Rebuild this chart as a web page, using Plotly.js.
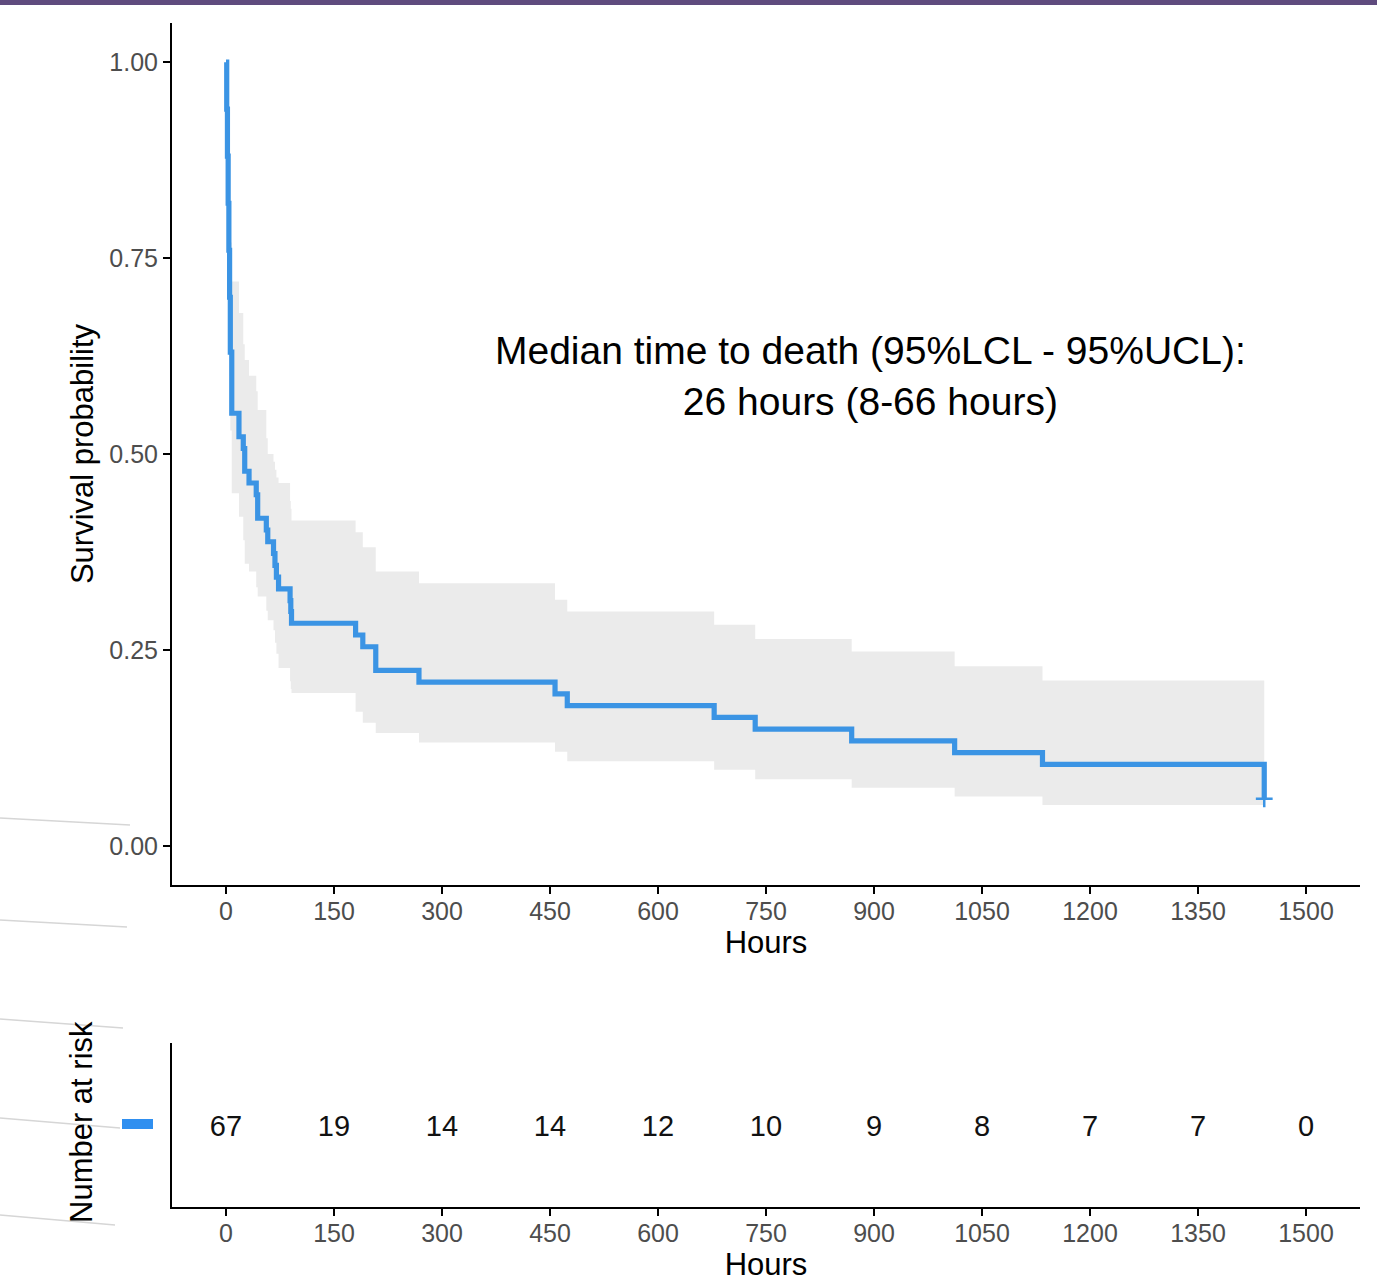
<!DOCTYPE html>
<html>
<head>
<meta charset="utf-8">
<script src="https://cdn.plot.ly/plotly-3.0.1.min.js"></script>
<style>html,body{margin:0;padding:0;background:#fff;}#chart{width:1377px;height:1284px;}</style>
</head>
<body>
<div id="chart"></div>
<script>
// Kaplan-Meier estimate (hours)
const timeHours = [0, 1, 2, 3, 4, 5, 6, 8, 18, 24, 26, 32, 42, 44, 56, 58, 66, 68, 70, 73, 89, 90, 91, 180, 190, 208, 268, 457, 474, 678, 735, 869, 1012, 1134, 1442];
const survival  = [1.000, 0.940, 0.880, 0.820, 0.760, 0.700, 0.630, 0.552, 0.522, 0.507, 0.478, 0.463, 0.448, 0.418, 0.403, 0.388, 0.373, 0.358, 0.343, 0.328, 0.313, 0.299, 0.284, 0.269, 0.254, 0.224, 0.209, 0.194, 0.179, 0.164, 0.149, 0.134, 0.119, 0.104, 0.060];
// 95% confidence band (step), ends at the last time
const bandTime  = [0, 1, 2, 3, 4, 5, 6, 8, 18, 24, 26, 32, 42, 44, 56, 58, 66, 68, 70, 73, 89, 90, 91, 180, 190, 208, 268, 457, 474, 678, 735, 869, 1012, 1134, 1442];
const upperCI   = [1.000, 0.990, 0.960, 0.910, 0.860, 0.820, 0.770, 0.720, 0.680, 0.640, 0.620, 0.600, 0.580, 0.556, 0.520, 0.500, 0.490, 0.480, 0.470, 0.463, 0.440, 0.430, 0.415, 0.400, 0.381, 0.350, 0.335, 0.314, 0.299, 0.282, 0.264, 0.248, 0.229, 0.211, 0.211];
const lowerCI   = [1.000, 0.880, 0.800, 0.730, 0.670, 0.600, 0.530, 0.450, 0.420, 0.390, 0.360, 0.350, 0.330, 0.318, 0.300, 0.288, 0.275, 0.259, 0.245, 0.227, 0.210, 0.200, 0.195, 0.171, 0.157, 0.144, 0.132, 0.120, 0.108, 0.097, 0.085, 0.074, 0.063, 0.052, 0.052];
// censoring mark
const censorTime = [1442];
const censorSurv = [0.060];
// risk table
const riskTimes  = [0, 150, 300, 450, 600, 750, 900, 1050, 1200, 1350, 1500];
const riskCounts = [67, 19, 14, 14, 12, 10, 9, 8, 7, 7, 0];
const riskRow    = [0.5, 0.5, 0.5, 0.5, 0.5, 0.5, 0.5, 0.5, 0.5, 0.5, 0.5];
// axis ticks
const xTicks = [0, 150, 300, 450, 600, 750, 900, 1050, 1200, 1350, 1500];
const yTicks = [0, 0.25, 0.5, 0.75, 1.0];
const yTickText = ['0.00', '0.25', '0.50', '0.75', '1.00'];

const W = 1377, H = 1284;
const px = x => x / W, py = y => 1 - y / H;
const BLUE = '#3b94e4';
const FONT = 'Liberation Sans, Arial, Helvetica, sans-serif';

const traces = [
  {x: bandTime, y: lowerCI, type: 'scatter', mode: 'lines', line: {shape: 'hv', width: 0, color: 'rgba(0,0,0,0)'}, hoverinfo: 'skip', showlegend: false, xaxis: 'x', yaxis: 'y'},
  {x: bandTime, y: upperCI, type: 'scatter', mode: 'lines', line: {shape: 'hv', width: 0, color: 'rgba(0,0,0,0)'}, fill: 'tonexty', fillcolor: '#ebebeb', hoverinfo: 'skip', showlegend: false, xaxis: 'x', yaxis: 'y'},
  {x: timeHours, y: survival, type: 'scatter', mode: 'lines', line: {shape: 'hv', width: 5.2, color: BLUE}, showlegend: false, xaxis: 'x', yaxis: 'y'},
  {x: censorTime, y: censorSurv, type: 'scatter', mode: 'markers', marker: {symbol: 'cross-thin', size: 12, line: {width: 2.5, color: BLUE}, color: BLUE}, showlegend: false, xaxis: 'x', yaxis: 'y'},
  {x: riskTimes, y: riskRow, text: riskCounts.map(String), type: 'scatter', mode: 'text', textposition: 'middle center', textfont: {size: 29, color: '#111', family: FONT}, showlegend: false, xaxis: 'x2', yaxis: 'y2', hoverinfo: 'skip'}
];

const xCommon = {
  domain: [px(172), px(1360)], range: [-75, 1575], tickvals: xTicks, ticktext: xTicks.map(String),
  ticks: 'outside', ticklen: 7, tickwidth: 2, tickcolor: '#000', ticklabelstandoff: -4,
  showline: true, linewidth: 2, linecolor: '#000', showgrid: false, zeroline: false,
  tickfont: {size: 25, color: '#4d4d4d', family: FONT}
};

const layout = {
  width: W, height: H, margin: {l: 0, r: 0, t: 0, b: 0},
  paper_bgcolor: '#fff', plot_bgcolor: '#fff', showlegend: false,
  font: {family: FONT},
  xaxis: Object.assign({}, xCommon, {anchor: 'y', title: {text: 'Hours', font: {size: 31, color: '#000', family: FONT}, standoff: 4}}),
  yaxis: {
    domain: [py(885), py(23)], range: [-0.05, 1.05], tickvals: yTicks, ticktext: yTickText,
    ticks: 'outside', ticklen: 7, tickwidth: 2, tickcolor: '#000',
    showline: true, linewidth: 2, linecolor: '#000', showgrid: false, zeroline: false,
    tickfont: {size: 25, color: '#4d4d4d', family: FONT}, anchor: 'x',
    title: {text: 'Survival probability', font: {size: 31, color: '#000', family: FONT}, standoff: 6}
  },
  xaxis2: Object.assign({}, xCommon, {anchor: 'y2', title: {text: 'Hours', font: {size: 31, color: '#000', family: FONT}, standoff: 2}}),
  yaxis2: {
    domain: [py(1207), py(1043)], range: [0.024, 1.024], showticklabels: false, ticks: '',
    showline: true, linewidth: 2, linecolor: '#000', showgrid: false, zeroline: false, anchor: 'x2'
  },
  annotations: [
    {text: 'Median time to death (95%LCL - 95%UCL):<br>26 hours (8-66 hours)', x: 895, y: 0.6, xref: 'x', yref: 'y',
     xanchor: 'center', yanchor: 'middle',
     showarrow: false, align: 'center', font: {size: 39, color: '#000', family: FONT}},
    {text: 'Number at risk', x: px(81), y: py(1122), xref: 'paper', yref: 'paper', textangle: -90,
     xanchor: 'center', yanchor: 'middle',
     showarrow: false, font: {size: 31, color: '#000', family: FONT}}
  ],
  shapes: [
    {type: 'rect', xref: 'paper', yref: 'paper', x0: 0, x1: 1, y0: py(5), y1: 1, fillcolor: '#5f4b7e', line: {width: 0}},
    {type: 'rect', xref: 'paper', yref: 'paper', x0: px(122), x1: px(153), y0: py(1129), y1: py(1119), fillcolor: '#2f8ff0', line: {width: 0}},
    {type: 'line', xref: 'paper', yref: 'paper', x0: 0, y0: py(818), x1: px(130), y1: py(825), line: {color: '#d6d6d6', width: 1.5}},
    {type: 'line', xref: 'paper', yref: 'paper', x0: 0, y0: py(920), x1: px(127), y1: py(927), line: {color: '#d6d6d6', width: 1.5}},
    {type: 'line', xref: 'paper', yref: 'paper', x0: 0, y0: py(1019), x1: px(123), y1: py(1028), line: {color: '#d6d6d6', width: 1.5}},
    {type: 'line', xref: 'paper', yref: 'paper', x0: 0, y0: py(1118), x1: px(120), y1: py(1128), line: {color: '#d6d6d6', width: 1.5}},
    {type: 'line', xref: 'paper', yref: 'paper', x0: 0, y0: py(1215), x1: px(115), y1: py(1225), line: {color: '#d6d6d6', width: 1.5}}
  ]
};

Plotly.newPlot('chart', traces, layout, {displayModeBar: false, staticPlot: true});
</script>
</body>
</html>
